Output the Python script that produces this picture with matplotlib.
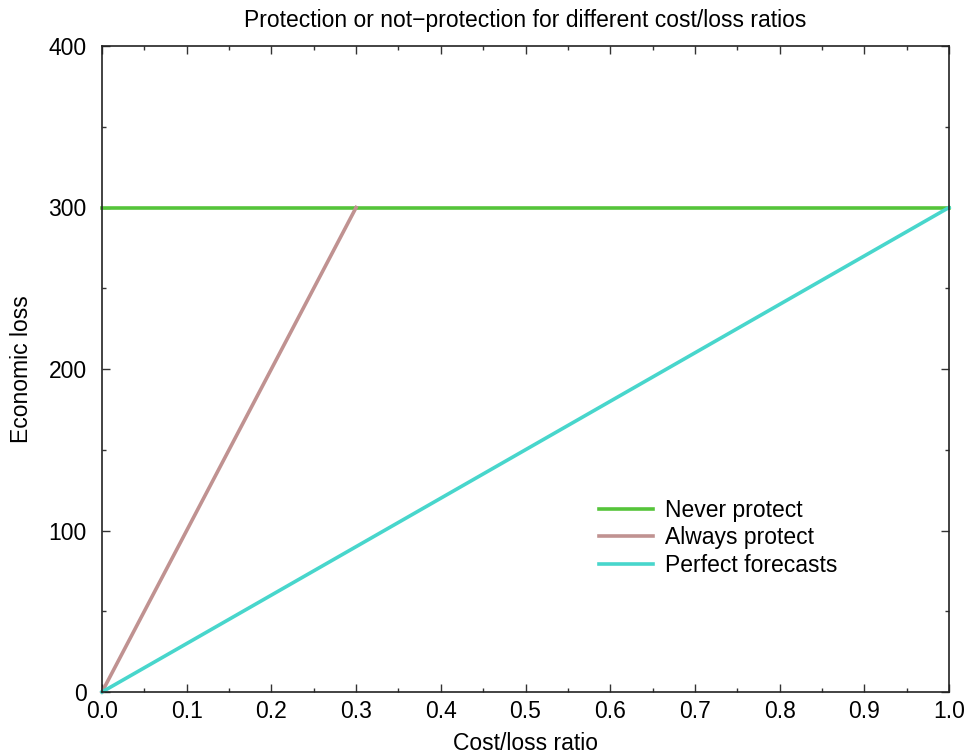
import matplotlib
matplotlib.use('Agg')
import matplotlib.pyplot as plt
from matplotlib.ticker import MultipleLocator

plt.rcParams['font.family'] = ['Liberation Sans', 'DejaVu Sans']

# data
never_x = [0.0, 1.0]
never_y = [300, 300]
always_x = [0.0, 0.3]
always_y = [0, 300]
perfect_x = [0.0, 1.0]
perfect_y = [0, 300]

fs = 16.5

fig = plt.figure(figsize=(9.68, 7.54), dpi=100)
ax = fig.add_axes([102 / 968, 62 / 754, 847 / 968, 646 / 754])

ax.plot(never_x, never_y, color='#55c43a', lw=2.6, label='Never protect', clip_on=False)
ax.plot(always_x, always_y, color='#c09291', lw=2.6, label='Always protect', clip_on=False)
ax.plot(perfect_x, perfect_y, color='#48d6cc', lw=2.6, label='Perfect forecasts', clip_on=False)

ax.set_xlim(0, 1)
ax.set_ylim(0, 400)
ax.xaxis.set_major_locator(MultipleLocator(0.1))
ax.xaxis.set_minor_locator(MultipleLocator(0.05))
ax.yaxis.set_major_locator(MultipleLocator(100))
ax.yaxis.set_minor_locator(MultipleLocator(50))
ax.xaxis.set_major_formatter(plt.FormatStrFormatter('%.1f'))
ax.tick_params(which='both', direction='in', top=True, right=True, labelsize=fs, color='#333333')
ax.tick_params(which='major', length=6, width=1)
ax.tick_params(which='minor', length=3, width=1)
ax.tick_params(axis='y', pad=11)
ax.tick_params(axis='x', pad=6)
for s in ax.spines.values():
    s.set_linewidth(1.2)
    s.set_color('#222222')

ax.set_title('Protection or not\u2212protection for different cost/loss ratios', fontsize=fs, pad=14)
ax.set_xlabel('Cost/loss ratio', fontsize=fs, labelpad=6)
ax.set_ylabel('Economic loss', fontsize=fs, labelpad=11)

ax.legend(loc='upper left', bbox_to_anchor=(0.563, 0.331), frameon=False, fontsize=fs,
          handlelength=2.35, handletextpad=0.5, labelspacing=0.2)

plt.savefig('out.png', dpi=100)
